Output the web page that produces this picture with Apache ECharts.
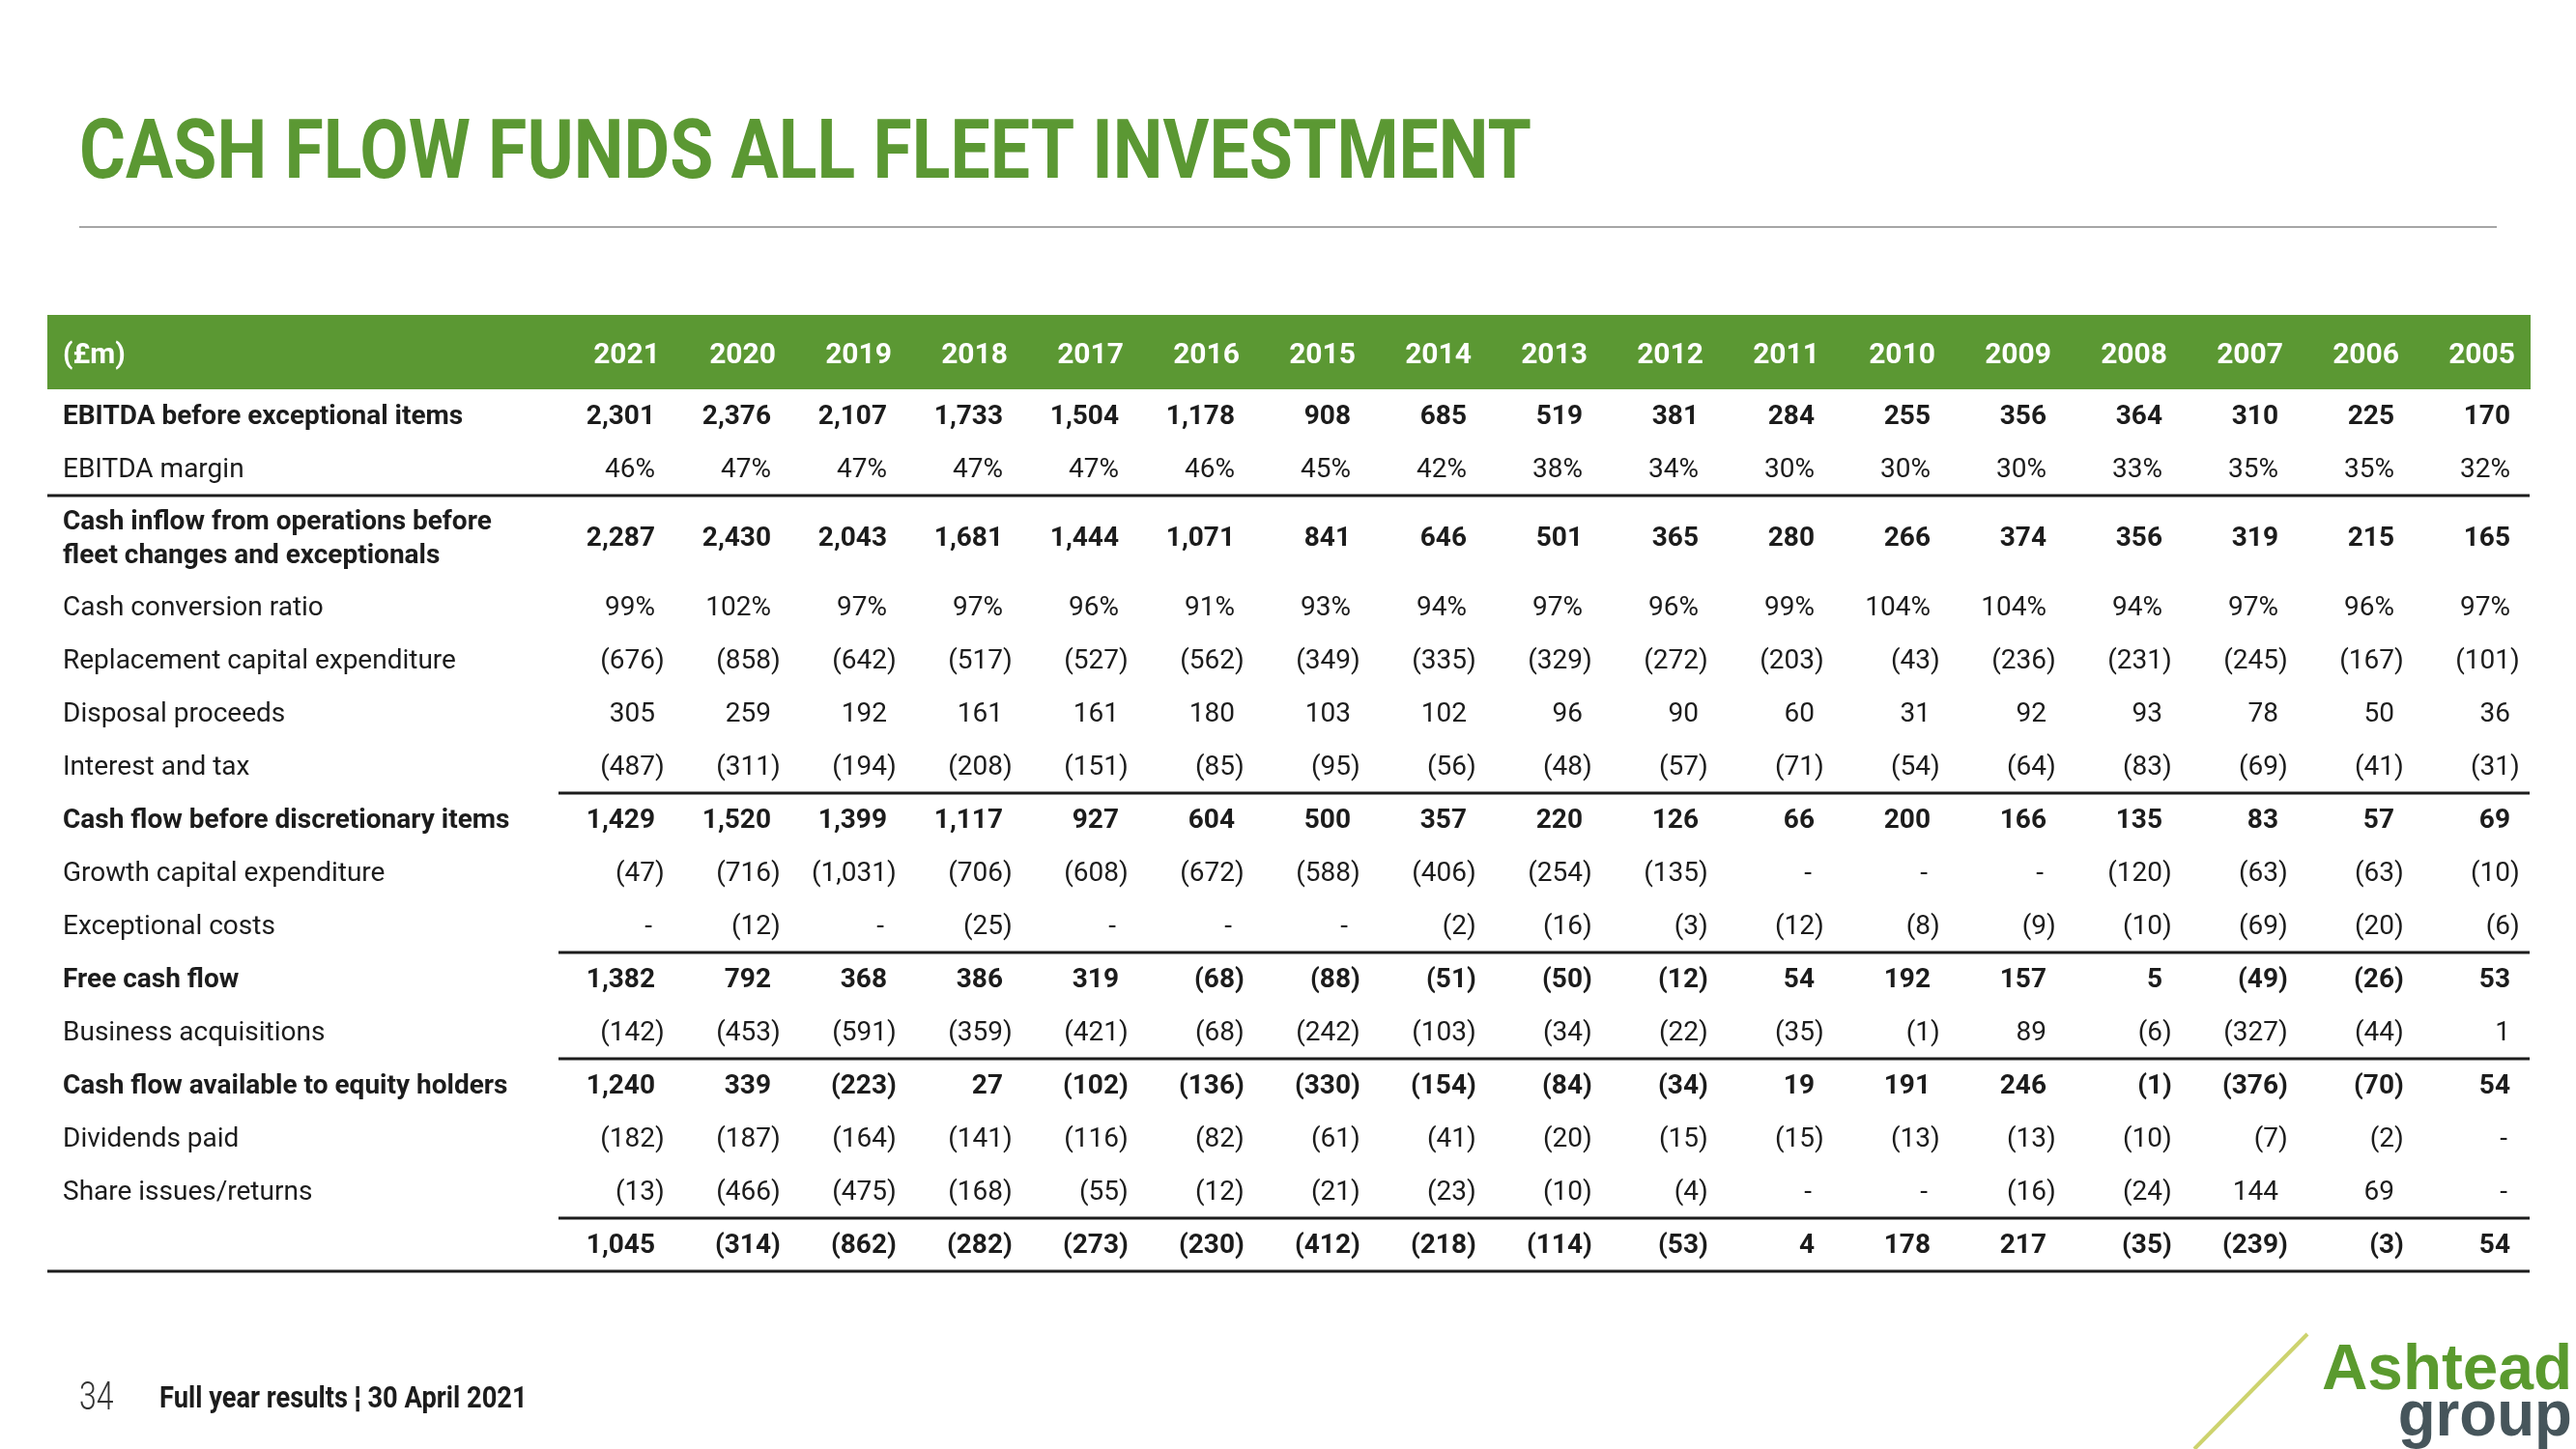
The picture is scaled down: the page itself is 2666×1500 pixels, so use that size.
<!DOCTYPE html>
<html>
<head>
<meta charset="utf-8">
<script src="https://cdn.jsdelivr.net/npm/echarts/dist/echarts.min.js"></script>
<style>
html,body{margin:0;padding:0;background:#fff;}
#main{width:2666px;height:1500px;}
</style>
</head>
<body>
<div id="main"></div>
<script>
// ---------- DATA ----------
const years = ['2021','2020','2019','2018','2017','2016','2015','2014','2013','2012','2011','2010','2009','2008','2007','2006','2005'];
const headerLabel = '(£m)';
const rowLabels = [
  'EBITDA before exceptional items',
  'EBITDA margin',
  'Cash inflow from operations before\nfleet changes and exceptionals',
  'Cash conversion ratio',
  'Replacement capital expenditure',
  'Disposal proceeds',
  'Interest and tax',
  'Cash flow before discretionary items',
  'Growth capital expenditure',
  'Exceptional costs',
  'Free cash flow',
  'Business acquisitions',
  'Cash flow available to equity holders',
  'Dividends paid',
  'Share issues/returns',
  ''
];
const ebitda          = [2301,2376,2107,1733,1504,1178,908,685,519,381,284,255,356,364,310,225,170];
const ebitdaMargin    = [46,47,47,47,47,46,45,42,38,34,30,30,30,33,35,35,32];
const cashInflow      = [2287,2430,2043,1681,1444,1071,841,646,501,365,280,266,374,356,319,215,165];
const cashConversion  = [99,102,97,97,96,91,93,94,97,96,99,104,104,94,97,96,97];
const replacementCapex= [-676,-858,-642,-517,-527,-562,-349,-335,-329,-272,-203,-43,-236,-231,-245,-167,-101];
const disposalProceeds= [305,259,192,161,161,180,103,102,96,90,60,31,92,93,78,50,36];
const interestTax     = [-487,-311,-194,-208,-151,-85,-95,-56,-48,-57,-71,-54,-64,-83,-69,-41,-31];
const cfBeforeDisc    = [1429,1520,1399,1117,927,604,500,357,220,126,66,200,166,135,83,57,69];
const growthCapex     = [-47,-716,-1031,-706,-608,-672,-588,-406,-254,-135,null,null,null,-120,-63,-63,-10];
const exceptionalCosts= [null,-12,null,-25,null,null,null,-2,-16,-3,-12,-8,-9,-10,-69,-20,-6];
const freeCashFlow    = [1382,792,368,386,319,-68,-88,-51,-50,-12,54,192,157,5,-49,-26,53];
const acquisitions    = [-142,-453,-591,-359,-421,-68,-242,-103,-34,-22,-35,-1,89,-6,-327,-44,1];
const cfEquity        = [1240,339,-223,27,-102,-136,-330,-154,-84,-34,19,191,246,-1,-376,-70,54];
const dividendsPaid   = [-182,-187,-164,-141,-116,-82,-61,-41,-20,-15,-15,-13,-13,-10,-7,-2,null];
const shareIssues     = [-13,-466,-475,-168,-55,-12,-21,-23,-10,-4,null,null,-16,-24,144,69,null];
const netCashFlow     = [1045,-314,-862,-282,-273,-230,-412,-218,-114,-53,4,178,217,-35,-239,-3,54];

const rowValues = [ebitda, ebitdaMargin, cashInflow, cashConversion, replacementCapex, disposalProceeds,
  interestTax, cfBeforeDisc, growthCapex, exceptionalCosts, freeCashFlow, acquisitions, cfEquity,
  dividendsPaid, shareIssues, netCashFlow];

// ---------- STYLE / LAYOUT ----------
const GREEN = '#5b9833';
const INK = '#1c1c1c';
const boldRows = new Set([0,2,7,10,12,15]);
const pctRows = new Set([1,3]);
const fullRuleAbove = new Set([2]);
const valueRuleAbove = new Set([7,10,12,15]);
const HEADER_UNITS = 1.4;
function rowTop(r){ return r + (r >= 3 ? 0.6 : 0); }
function rowH(r){ return r === 2 ? 1.6 : 1; }
function rowCenter(r){ return r < 0 ? -HEADER_UNITS/2 : rowTop(r) + rowH(r)/2; }
const LAST = rowValues.length - 1;
const Y_MAX = rowTop(LAST) + rowH(LAST);

function fmtNum(v){
  return String(Math.abs(v)).replace(/\B(?=(\d{3})+(?!\d))/g, ',');
}

const valueData = [];
const labelData = [];
for (let c = 0; c < years.length; c++) valueData.push([c, rowCenter(-1), -1]);
labelData.push([0, rowCenter(-1), -1]);
for (let r = 0; r < rowValues.length; r++) {
  for (let c = 0; c < years.length; c++) valueData.push([c, rowCenter(r), r]);
  labelData.push([0, rowCenter(r), r]);
}

const TEXT_DY = 1;
const HEAD_DY = 4;
function ruleLine(x1, x2, y){
  return {type:'line', shape:{x1:x1, y1:y, x2:x2, y2:y}, style:{stroke:INK, lineWidth:3}};
}

function renderValue(params, api){
  const c = api.value(0), r = api.value(2);
  const bw = api.size([1,0])[0];
  const ctr = api.coord([c, rowCenter(r)]);
  const left = ctr[0] - bw/2, right = ctr[0] + bw/2;
  const xR = right - 20;
  const y = ctr[1] + TEXT_DY;
  const ch = [];
  if (r === -1) {
    const t = api.coord([c, -HEADER_UNITS])[1], b = api.coord([c, 0])[1];
    ch.push({type:'rect', shape:{x:left, y:t, width:bw+1, height:b-t}, style:{fill:GREEN}});
    ch.push({type:'text', x:xR + 5, y:ctr[1] + HEAD_DY, style:{text:years[c], fill:'#fff', font:'bold 30px Roboto', align:'right', verticalAlign:'middle'}});
    return {type:'group', children:ch};
  }
  const top = api.coord([c, rowTop(r)])[1];
  const bot = api.coord([c, rowTop(r)+rowH(r)])[1];
  if (fullRuleAbove.has(r) || valueRuleAbove.has(r)) ch.push(ruleLine(left, right, top));
  if (r === LAST) ch.push(ruleLine(left, right, bot));
  const v = rowValues[r][c];
  const font = (boldRows.has(r) ? 'bold ' : 'normal ') + '28px Roboto';
  if (v === null) {
    ch.push({type:'text', x:xR-3, y:y, style:{text:'-', fill:INK, font:font, align:'right', verticalAlign:'middle'}});
  } else {
    let s = fmtNum(v) + (pctRows.has(r) ? '%' : '');
    if (v < 0) {
      ch.push({type:'text', x:xR, y:y, style:{text:'(' + s, fill:INK, font:font, align:'right', verticalAlign:'middle'}});
      ch.push({type:'text', x:xR, y:y, style:{text:')', fill:INK, font:font, align:'left', verticalAlign:'middle'}});
    } else {
      ch.push({type:'text', x:xR, y:y, style:{text:s, fill:INK, font:font, align:'right', verticalAlign:'middle'}});
    }
  }
  return {type:'group', children:ch};
}

function renderLabel(params, api){
  const r = api.value(2);
  const bw = api.size([1,0])[0];
  const ctr = api.coord([0, rowCenter(r)]);
  const left = ctr[0] - bw/2, right = ctr[0] + bw/2;
  const xL = left + 16;
  const ch = [];
  if (r === -1) {
    const t = api.coord([0, -HEADER_UNITS])[1], b = api.coord([0, 0])[1];
    ch.push({type:'rect', shape:{x:left, y:t, width:bw+1, height:b-t}, style:{fill:GREEN}});
    ch.push({type:'text', x:xL, y:ctr[1] + HEAD_DY, style:{text:headerLabel, fill:'#fff', font:'bold 30px Roboto', align:'left', verticalAlign:'middle'}});
    return {type:'group', children:ch};
  }
  const top = api.coord([0, rowTop(r)])[1];
  const bot = api.coord([0, rowTop(r)+rowH(r)])[1];
  if (fullRuleAbove.has(r)) ch.push(ruleLine(left, right, top));
  if (r === LAST) ch.push(ruleLine(left, right, bot));
  const font = (boldRows.has(r) ? 'bold ' : 'normal ') + '28px Roboto';
  ch.push({type:'text', x:xL, y:ctr[1] + TEXT_DY, style:{text:rowLabels[r], fill:INK, font:font, align:'left', verticalAlign:'middle', lineHeight:35}});
  return {type:'group', children:ch};
}

const GRID_TOP = 326, GRID_H = 990;
const chart = echarts.init(document.getElementById('main'), null, {renderer:'canvas'});
chart.setOption({
  animation:false,
  backgroundColor:'#fff',
  grid:[
    {left:49, width:529, top:GRID_TOP, height:GRID_H},
    {left:578, width:2040, top:GRID_TOP, height:GRID_H}
  ],
  xAxis:[
    {type:'category', gridIndex:0, data:[headerLabel], show:false},
    {type:'category', gridIndex:1, data:years, show:false}
  ],
  yAxis:[
    {type:'value', gridIndex:0, inverse:true, min:-HEADER_UNITS, max:Y_MAX, show:false},
    {type:'value', gridIndex:1, inverse:true, min:-HEADER_UNITS, max:Y_MAX, show:false}
  ],
  series:[
    {type:'custom', xAxisIndex:0, yAxisIndex:0, data:labelData, renderItem:renderLabel, clip:false, silent:true},
    {type:'custom', xAxisIndex:1, yAxisIndex:1, data:valueData, renderItem:renderValue, clip:false, silent:true}
  ],
  graphic:[
    {type:'text', x:82, y:162, scaleX:0.853, style:{text:'CASH FLOW FUNDS ALL FLEET INVESTMENT', font:'bold 86px Roboto', fill:GREEN, align:'left', verticalAlign:'middle'}},
    {type:'line', shape:{x1:82, y1:235, x2:2584, y2:235}, style:{stroke:'#a6a6a6', lineWidth:2}},
    {type:'text', x:82, y:1449, scaleX:0.8, style:{text:'34', font:'300 40px Roboto', fill:'#333', align:'left', verticalAlign:'middle'}},
    {type:'text', x:165, y:1449, scaleX:0.88, style:{text:'Full year results ¦ 30 April 2021', font:'bold 31px Roboto', fill:INK, align:'left', verticalAlign:'middle'}},
    {type:'line', shape:{x1:2271, y1:1500, x2:2388, y2:1381}, style:{stroke:'#cdd36e', lineWidth:4}},
    {type:'text', x:2662, y:1420, scaleX:0.98, style:{text:'Ashtead', font:'bold 67px "Liberation Sans"', fill:'#5a9a2e', align:'right', verticalAlign:'middle'}},
    {type:'text', x:2662, y:1468, scaleX:0.95, style:{text:'group', font:'bold 67px "Liberation Sans"', fill:'#46555b', align:'right', verticalAlign:'middle'}}
  ]
});
</script>
</body>
</html>
